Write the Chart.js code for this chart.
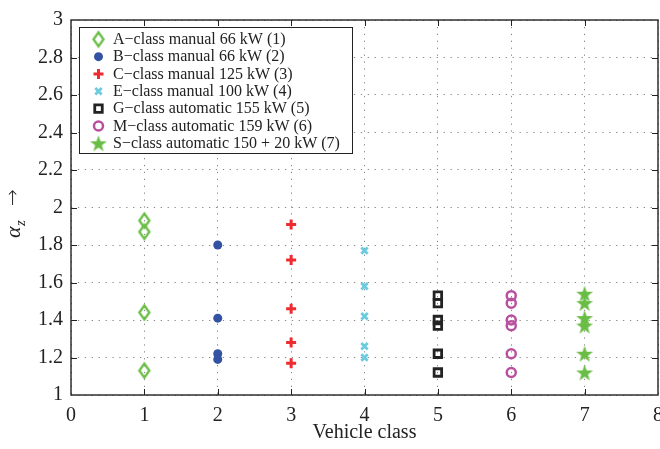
<!DOCTYPE html>
<html>
<head>
<meta charset="utf-8">
<script src="https://cdn.jsdelivr.net/npm/chart.js@4.4.0/dist/chart.umd.min.js"></script>
<style>
    html, body { margin: 0; padding: 0; background: #fff; overflow: hidden; }
    #wrap { position: relative; width: 672px; height: 449px; }
</style>
</head>
<body>
<div id="wrap"><canvas id="alphaChart"></canvas></div>
<script>
// Datos
const seriesNames = [
    'A\u2212class manual 66 kW (1)',
    'B\u2212class manual 66 kW (2)',
    'C\u2212class manual 125 kW (3)',
    'E\u2212class manual 100 kW (4)',
    'G\u2212class automatic 155 kW (5)',
    'M\u2212class automatic 159 kW (6)',
    'S\u2212class automatic 150 + 20 kW (7)'
];
const vehicleClass = [1, 2, 3, 4, 5, 6, 7];
const aClass = [1.93, 1.87, 1.44, 1.13];
const bClass = [1.80, 1.41, 1.22, 1.19];
const cClass = [1.91, 1.72, 1.46, 1.28, 1.17];
const eClass = [1.77, 1.58, 1.42, 1.26, 1.20];
const gClass = [1.53, 1.49, 1.40, 1.37, 1.22, 1.12];
const mClass = [1.53, 1.49, 1.40, 1.37, 1.22, 1.12];
const sClass = [1.54, 1.49, 1.41, 1.37, 1.22, 1.12];
const xTicks = [0, 1, 2, 3, 4, 5, 6, 7, 8];
const yTicks = [1, 1.2, 1.4, 1.6, 1.8, 2, 2.2, 2.4, 2.6, 2.8, 3];

const green = '#69bd45';
const serif = '"Liberation Serif", "Times New Roman", serif';

// Marcadores propios: rombo alto y estrella rellena
function makeDiamond() {
    const c = document.createElement('canvas');
    c.width = 16; c.height = 19;
    const g = c.getContext('2d');
    g.strokeStyle = green;
    g.lineWidth = 2.3;
    g.beginPath();
    g.moveTo(8, 2.5); g.lineTo(13, 9.5); g.lineTo(8, 16.5); g.lineTo(3, 9.5);
    g.closePath();
    g.stroke();
    return c;
}
function makeStar() {
    const c = document.createElement('canvas');
    c.width = 20; c.height = 20;
    const g = c.getContext('2d');
    g.fillStyle = green;
    g.beginPath();
    for (let i = 0; i < 10; i++) {
        const r = i % 2 === 0 ? 8.8 : 3.5;
        const ang = -Math.PI / 2 + i * Math.PI / 5;
        const px = 10 + r * Math.cos(ang), py = 10.8 + r * Math.sin(ang);
        if (i === 0) g.moveTo(px, py); else g.lineTo(px, py);
    }
    g.closePath();
    g.fill();
    return c;
}
const diamondImg = makeDiamond();
const starImg = makeStar();

const toPoints = (cls, values) => values.map(v => ({ x: cls, y: v }));

const datasets = [
    { label: seriesNames[0], data: toPoints(vehicleClass[0], aClass), pointStyle: diamondImg, pointRadius: 7, borderColor: green, backgroundColor: green, pointBorderWidth: 0 },
    { label: seriesNames[1], data: toPoints(vehicleClass[1], bClass), pointStyle: 'circle', pointRadius: 4.5, borderColor: '#3352a3', backgroundColor: '#3352a3', pointBorderWidth: 0 },
    { label: seriesNames[2], data: toPoints(vehicleClass[2], cClass), pointStyle: 'cross', pointRadius: 5, borderColor: '#ee2b2e', backgroundColor: '#ee2b2e', pointBorderWidth: 3 },
    { label: seriesNames[3], data: toPoints(vehicleClass[3], eClass), pointStyle: 'crossRot', pointRadius: 4.5, borderColor: '#6ccbdf', backgroundColor: '#6ccbdf', pointBorderWidth: 2.8 },
    { label: seriesNames[4], data: toPoints(vehicleClass[4], gClass), pointStyle: 'rect', pointRadius: 5.3, borderColor: '#222222', backgroundColor: 'rgba(0,0,0,0)', pointBorderWidth: 2.8 },
    { label: seriesNames[5], data: toPoints(vehicleClass[5], mClass), pointStyle: 'circle', pointRadius: 4.5, borderColor: '#b9509f', backgroundColor: 'rgba(0,0,0,0)', pointBorderWidth: 2.5 },
    { label: seriesNames[6], data: toPoints(vehicleClass[6], sClass), pointStyle: starImg, pointRadius: 9, borderColor: green, backgroundColor: green, pointBorderWidth: 0 }
];

// Marco con marcas hacia adentro (estilo Matlab)
const framePlugin = {
    id: 'frame',
    beforeDatasetsDraw(chart) {
        const { ctx, chartArea: a, scales: { x, y } } = chart;
        ctx.save();
        ctx.strokeStyle = '#222';
        ctx.lineWidth = 1.4;
        ctx.strokeRect(a.left, a.top, a.right - a.left, a.bottom - a.top);
        ctx.lineWidth = 1;
        ctx.beginPath();
        xTicks.slice(1, -1).forEach(v => {
            const px = Math.round(x.getPixelForValue(v)) + 0.5;
            ctx.moveTo(px, a.bottom); ctx.lineTo(px, a.bottom - 6);
            ctx.moveTo(px, a.top); ctx.lineTo(px, a.top + 6);
        });
        yTicks.slice(1, -1).forEach(v => {
            const py = Math.round(y.getPixelForValue(v)) + 0.5;
            ctx.moveTo(a.left, py); ctx.lineTo(a.left + 6, py);
            ctx.moveTo(a.right, py); ctx.lineTo(a.right - 6, py);
        });
        ctx.stroke();
        ctx.restore();
    }
};

// Leyenda con recuadro dentro del area de la grafica
const legendBoxPlugin = {
    id: 'legendBox',
    afterDatasetsDraw(chart) {
        const { ctx, chartArea: a } = chart;
        const left = a.left + 8, top = a.top + 7, width = 273, height = 126;
        ctx.save();
        ctx.fillStyle = '#fff';
        ctx.fillRect(left, top, width, height);
        ctx.strokeStyle = '#222';
        ctx.lineWidth = 1;
        ctx.strokeRect(left + 0.5, top + 0.5, width, height);
        ctx.font = '16px ' + serif;
        ctx.textBaseline = 'middle';
        chart.data.datasets.forEach((ds, i) => {
            const cy = top + 12.3 + i * 17.33;
            ctx.fillStyle = ds.backgroundColor;
            ctx.strokeStyle = ds.borderColor;
            ctx.lineWidth = ds.pointBorderWidth;
            Chart.helpers.drawPoint(ctx, {
                pointStyle: ds.pointStyle, radius: ds.pointRadius,
                borderWidth: ds.pointBorderWidth, rotation: 0
            }, left + 19.5, cy);
            ctx.fillStyle = '#222';
            ctx.fillText(ds.label, left + 34, cy + 0.5);
        });
        ctx.restore();
    }
};

// Titulo del eje Y con subindice
const yTitlePlugin = {
    id: 'yTitle',
    afterDraw(chart) {
        const ctx = chart.ctx;
        ctx.save();
        ctx.translate(20, 238);
        ctx.rotate(-Math.PI / 2);
        ctx.fillStyle = '#222';
        ctx.textBaseline = 'alphabetic';
        ctx.font = 'italic 22px ' + serif;
        ctx.fillText('\u03b1', 0, 0);
        const w = ctx.measureText('\u03b1').width;
        ctx.font = 'italic 15px ' + serif;
        ctx.fillText('z', w + 0.5, 4.5);
        ctx.font = '200 20px "DejaVu Sans"';
        ctx.fillText('\u2192', 32, -1);
        ctx.restore();
    }
};

const ctx = document.getElementById('alphaChart').getContext('2d');

new Chart(ctx, {
    type: 'scatter',
    data: { datasets: datasets },
    options: {
        responsive: true,
        maintainAspectRatio: false,
        animation: false,
        layout: { padding: { left: 0, top: 14, right: 13, bottom: 0 } },
        plugins: {
            legend: { display: false },
            tooltip: { enabled: false }
        },
        scales: {
            x: {
                type: 'linear',
                min: 0,
                max: 8,
                afterBuildTicks: (scale) => { scale.ticks = xTicks.map(v => ({ value: v })); },
                afterFit: (scale) => { scale.height = 54; },
                grid: { color: '#8a8a8a', lineWidth: 1, drawTicks: false, borderDash: [1.3, 5.6] },
                border: { display: false, dash: [1.3, 5.6] },
                ticks: { color: '#222', padding: 9, font: { family: serif, size: 20 } },
                title: { display: true, text: 'Vehicle class', color: '#222', font: { family: serif, size: 20 }, padding: { top: 0, bottom: 4 } }
            },
            y: {
                type: 'linear',
                min: 1,
                max: 3,
                afterBuildTicks: (scale) => { scale.ticks = yTicks.map(v => ({ value: v })); },
                afterFit: (scale) => { scale.width = 71; },
                grid: { color: '#8a8a8a', lineWidth: 1, drawTicks: false, borderDash: [1.3, 5.6] },
                border: { display: false, dash: [1.3, 5.6] },
                ticks: {
                    color: '#222', padding: 8, font: { family: serif, size: 20 },
                    callback: (value) => String(Math.round(value * 10) / 10)
                }
            }
        }
    },
    plugins: [framePlugin, legendBoxPlugin, yTitlePlugin]
});
</script>
</body>
</html>
